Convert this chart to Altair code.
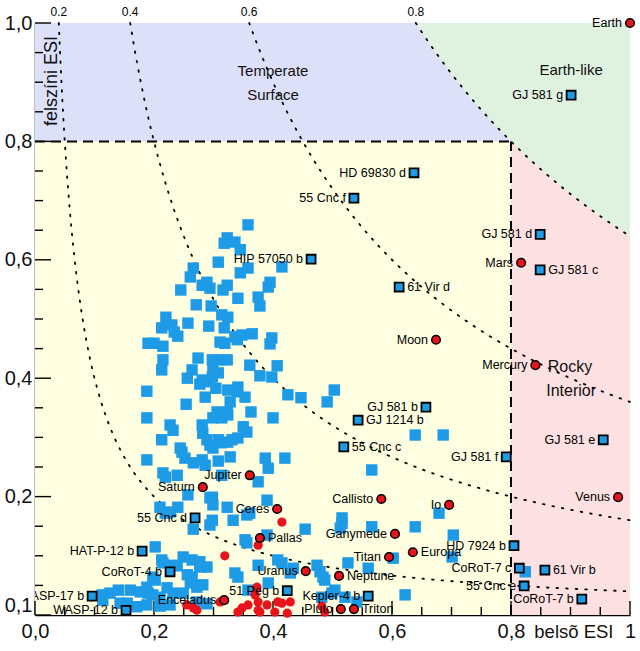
import altair as alt
import numpy as np
import pandas as pd

# ---------------- data (interior ESI, surface ESI) ----------------
unlabeled_exo = [
    (0.358,0.659),(0.323,0.637),(0.336,0.630),(0.318,0.628),(0.345,0.617),(0.308,0.596),(0.266,0.586),
    (0.261,0.571),(0.358,0.586),(0.345,0.578),(0.415,0.588),(0.289,0.562),(0.281,0.557),(0.294,0.552),
    (0.323,0.557),(0.316,0.549),(0.395,0.562),(0.392,0.554),(0.245,0.549),(0.341,0.535),(0.375,0.537),
    (0.378,0.522),(0.271,0.524),(0.296,0.522),(0.314,0.507),(0.324,0.503),(0.220,0.503),(0.213,0.485),
    (0.230,0.490),(0.234,0.478),(0.240,0.471),(0.257,0.493),(0.292,0.488),(0.318,0.485),(0.336,0.470),
    (0.348,0.473),(0.365,0.475),(0.398,0.468),(0.395,0.458),(0.190,0.459),(0.200,0.459),(0.215,0.454),
    (0.311,0.461),(0.319,0.459),(0.340,0.465),(0.215,0.431),(0.274,0.434),(0.298,0.431),(0.311,0.431),
    (0.323,0.431),(0.361,0.422),(0.407,0.421),(0.213,0.414),(0.264,0.414),(0.299,0.414),(0.308,0.409),
    (0.256,0.400),(0.281,0.397),(0.277,0.390),(0.292,0.394),(0.298,0.402),(0.378,0.404),(0.398,0.402),
    (0.304,0.383),(0.188,0.378),(0.324,0.380),(0.340,0.377),(0.341,0.385),(0.286,0.368),(0.353,0.368),
    (0.425,0.372),(0.447,0.367),(0.503,0.380),(0.491,0.360),(0.328,0.360),(0.254,0.356),(0.306,0.343),
    (0.323,0.343),(0.324,0.338),(0.314,0.333),(0.299,0.333),(0.363,0.343),(0.400,0.333),(0.188,0.333),
    (0.281,0.321),(0.282,0.307),(0.289,0.296),(0.294,0.287),(0.227,0.321),(0.232,0.312),(0.213,0.296),
    (0.308,0.296),(0.314,0.291),(0.324,0.292),(0.331,0.296),(0.350,0.318),(0.356,0.309),(0.341,0.299),
    (0.244,0.282),(0.247,0.275),(0.299,0.282),(0.328,0.267),(0.188,0.262),(0.266,0.257),(0.281,0.262),
    (0.286,0.253),(0.308,0.260),(0.252,0.265),(0.387,0.265),(0.420,0.265),(0.392,0.248),(0.215,0.240),
    (0.219,0.233),(0.239,0.236),(0.314,0.236),(0.375,0.225),(0.298,0.199),(0.299,0.186),(0.210,0.182),
    (0.219,0.172),(0.227,0.174),(0.240,0.182),(0.323,0.182),(0.298,0.160),(0.294,0.152),(0.333,0.160),
    (0.266,0.145),(0.390,0.194),(0.361,0.172),(0.454,0.145),(0.390,0.135),(0.353,0.127),(0.356,0.122),
    (0.257,0.203),(0.294,0.198),(0.202,0.115),(0.213,0.093),(0.215,0.088),(0.232,0.084),(0.239,0.083),
    (0.249,0.098),(0.264,0.093),(0.277,0.090),(0.256,0.068),(0.264,0.064),(0.198,0.064),(0.202,0.059),
    (0.126,0.037),(0.140,0.042),(0.160,0.042),(0.177,0.039),(0.188,0.047),(0.190,0.037),(0.198,0.034),
    (0.210,0.030),(0.222,0.046),(0.232,0.037),(0.249,0.037),(0.113,0.034),(0.114,0.025),(0.143,0.020),
    (0.155,0.020),(0.171,0.014),(0.188,0.017),(0.210,0.015),(0.227,0.017),(0.261,0.054),(0.272,0.047),
    (0.282,0.051),(0.272,0.022),(0.289,0.019),(0.516,0.164),(0.516,0.155),(0.513,0.147),(0.566,0.149),
    (0.602,0.096),(0.408,0.093),(0.415,0.088),(0.375,0.084),(0.434,0.079),(0.429,0.071),(0.474,0.084),
    (0.479,0.073),(0.484,0.064),(0.487,0.059),(0.526,0.088),(0.560,0.079),(0.336,0.071),(0.341,0.064),
    (0.622,0.034),(0.504,0.042),(0.499,0.037),(0.482,0.030),(0.521,0.030),(0.639,0.304),(0.686,0.304),
    (0.566,0.245),(0.679,0.172),(0.639,0.149),(0.703,0.135),(0.701,0.098),(0.824,0.073),(0.356,0.169),
    (0.277,0.081),(0.289,0.081),(0.541,0.022),(0.358,0.042),(0.392,0.054),
]

unlabeled_solar = [
    (0.319,0.100),(0.415,0.157),(0.375,0.118),(0.272,0.008),(0.255,0.017),(0.341,0.005),(0.311,0.022),
    (0.373,0.047),(0.375,0.022),(0.375,0.008),(0.390,0.017),(0.415,0.020),(0.429,0.022),(0.424,0.003),
    (0.348,0.012),(0.378,0.005),(0.482,0.015),(0.487,0.005),(0.370,0.034),(0.408,0.022),(0.266,0.012),
    (0.403,0.005),(0.358,0.017),
]

exo_names = ["GJ 581 g", "HD 69830 d", "55 Cnc f", "GJ 581 d", "GJ 581 c", "HIP 57050 b", "61 Vir d",
             "GJ 581 b", "GJ 1214 b", "55 Cnc c", "GJ 581 e", "GJ 581 f", "HD 7924 b", "CoRoT-7 c",
             "61 Vir b", "55 Cnc e", "CoRoT-7 b", "55 Cnc d", "HAT-P-12 b", "CoRoT-4 b", "WASP-17 b",
             "WASP-12 b", "51 Peg b", "Kepler-4 b"]
exo_x = [0.901, 0.637, 0.536, 0.849, 0.849, 0.464, 0.612, 0.657, 0.543, 0.519, 0.955, 0.792, 0.805,
         0.814, 0.857, 0.822, 0.919, 0.269, 0.180, 0.227, 0.096, 0.153, 0.424, 0.560]
exo_y = [0.878, 0.747, 0.704, 0.643, 0.583, 0.601, 0.554, 0.351, 0.329, 0.284, 0.296, 0.267, 0.117,
         0.079, 0.076, 0.049, 0.027, 0.164, 0.108, 0.073, 0.032, 0.008, 0.041, 0.032]
exo_side = ["L", "L", "L", "L", "R", "L", "R", "L", "R", "R", "L", "L", "L", "L", "R", "L", "L", "L",
            "L", "L", "C", "L", "L", "L"]

sol_names = ["Earth", "Mars", "Moon", "Mercury", "Venus", "Callisto", "Io", "Ganymede", "Europa",
             "Titan", "Jupiter", "Saturn", "Ceres", "Pallas", "Uranus", "Neptune", "Enceladus",
             "Pluto", "Triton"]
sol_x = [1.000, 0.817, 0.674, 0.841, 0.980, 0.582, 0.696, 0.605, 0.635, 0.595, 0.361, 0.282, 0.407,
         0.378, 0.455, 0.511, 0.318, 0.514, 0.536]
sol_y = [1.000, 0.595, 0.465, 0.422, 0.199, 0.196, 0.186, 0.137, 0.106, 0.098, 0.236, 0.216, 0.179,
         0.130, 0.074, 0.066, 0.025, 0.010, 0.010]
sol_side = ["L", "L", "L", "L", "L", "L", "L", "L", "R", "L", "L", "L", "L", "R", "L", "R", "L",
            "L", "R"]

iso_levels = [0.2, 0.4, 0.6, 0.8]
iso_labels = ["0.2", "0.4", "0.6", "0.8"]
threshold = 0.8

region_text = ["Temperate", "Surface", "Earth-like", "Rocky", "Interior"]
region_x = [0.400, 0.400, 0.901, 0.899, 0.901]
region_y = [0.919, 0.878, 0.921, 0.419, 0.378]
region_size = [15, 15, 15, 16, 16]

major_ticks = [0.0, 0.2, 0.4, 0.6, 0.8, 1.0]
minor_ticks = [0.05, 0.1, 0.15, 0.25, 0.3, 0.35, 0.45, 0.5, 0.55, 0.65, 0.7, 0.75, 0.85, 0.9, 0.95]

# ---------------- style ----------------
W, H = 595, 592
BLUE = "#1e9be6"
RED = "#e8131b"
FONT = "Liberation Sans"

xs = alt.Scale(domain=[0, 1], nice=False, zero=False)
ys = alt.Scale(domain=[0, 1], nice=False, zero=False)

x_axis = alt.Axis(values=major_ticks, tickSize=0, grid=False, labelFontSize=20, labelPadding=6,
                  labelFlush=False, labelColor="#111111", domainColor="black", domainWidth=1.5,
                  labelExpr="datum.value == 1 ? '1' : replace(format(datum.value, '.1f'), '.', ',')",
                  title="belsõ ESI", titleFontSize=18.5, titleFontWeight="normal", titleX=578, titleY=7,
                  titleAlign="right", titleBaseline="top", titleColor="#111111", titleFont=FONT)
y_axis = alt.Axis(values=major_ticks, tickSize=0, grid=False, labelFontSize=20, labelPadding=3,
                  labelFlush=False, labelColor="#111111", domainColor="black", domainWidth=1.5,
                  labelBaseline={"condition": {"test": "datum.value == 0", "value": "bottom"},
                                 "value": "middle"},
                  labelExpr="datum.value == 0 ? '0,1' : replace(format(datum.value, '.1f'), '.', ',')")


def X(field):
    return alt.X(field, type="quantitative", scale=xs, axis=x_axis)


def Y(field):
    return alt.Y(field, type="quantitative", scale=ys, axis=y_axis, title=None)


# ---------------- tables ----------------
zone_df = pd.DataFrame({"x0": [0.0], "x1": [threshold], "y0": [0.0], "y1": [threshold]})

c2 = threshold ** 2
yy = np.linspace(threshold, 1.0, 120)
blue_df = pd.DataFrame({"y": yy, "x0": 0.0, "x1": c2 / yy})
xg = np.linspace(c2, 1.0, 200)
green_df = pd.DataFrame({"x": xg, "y0": c2 / xg, "y1": 1.0})
xp = np.linspace(threshold, 1.0, 120)
pink_df = pd.DataFrame({"x": xp, "y0": 0.0, "y1": c2 / xp})

curve_rows = []
for lv in iso_levels:
    for xv in np.linspace(lv ** 2, 1.0, 400):
        curve_rows.append({"level": lv, "x": xv, "y": lv ** 2 / xv})
curve_df = pd.DataFrame(curve_rows)

dash_df = pd.DataFrame({"x": [0.0, threshold], "y": [threshold, 0.0],
                        "x2": [threshold, threshold], "y2": [threshold, threshold]})

major_df = pd.DataFrame({"v": major_ticks})
minor_df = pd.DataFrame({"v": minor_ticks})

sq_df = pd.DataFrame(unlabeled_exo, columns=["x", "y"])
rc_df = pd.DataFrame(unlabeled_solar, columns=["x", "y"])
exo_df = pd.DataFrame({"name": exo_names, "x": exo_x, "y": exo_y, "side": exo_side})
sol_df = pd.DataFrame({"name": sol_names, "x": sol_x, "y": sol_y, "side": sol_side})
lab_df = pd.concat([exo_df, sol_df], ignore_index=True)

iso_lab_df = pd.DataFrame({"x": [lv ** 2 for lv in iso_levels], "t": iso_labels})
region_df = pd.DataFrame({"t": region_text, "x": region_x, "y": region_y, "s": region_size})

# ---------------- layers ----------------
yellow = alt.Chart(zone_df).mark_rect(color="#fefee1").encode(x=X("x0"), x2="x1", y=Y("y0"), y2="y1")
blue = alt.Chart(blue_df).mark_area(orient="horizontal", color="#dde0f9", opacity=1).encode(
    y=Y("y"), x=X("x0"), x2="x1")
green = alt.Chart(green_df).mark_area(color="#dff2e0", opacity=1).encode(x=X("x"), y=Y("y0"), y2="y1")
pink = alt.Chart(pink_df).mark_area(color="#fde0e1", opacity=1).encode(x=X("x"), y=Y("y0"), y2="y1")

curves = alt.Chart(curve_df).mark_line(color="black", strokeWidth=1.8, strokeDash=[1.6, 8],
                                       strokeCap="round").encode(
    x=X("x"), y=Y("y"), detail="level:N")

dashes = alt.Chart(dash_df).mark_rule(color="black", strokeWidth=2, strokeDash=[10, 6]).encode(
    x=X("x"), y=Y("y"), x2="x2", y2="y2")

ytick_major = alt.Chart(major_df).mark_rule(color="black", strokeWidth=1.4).encode(
    y=Y("v"), x=alt.value(0), x2=alt.value(16))
ytick_minor = alt.Chart(minor_df).mark_rule(color="black", strokeWidth=1.4).encode(
    y=Y("v"), x=alt.value(0), x2=alt.value(8))
xtick_major = alt.Chart(major_df).mark_rule(color="black", strokeWidth=1.4).encode(
    x=X("v"), y=alt.value(H), y2=alt.value(H - 14))
xtick_minor = alt.Chart(minor_df).mark_rule(color="black", strokeWidth=1.4).encode(
    x=X("v"), y=alt.value(H), y2=alt.value(H - 8))

squares = alt.Chart(sq_df).mark_point(shape="square", filled=True, size=130, color=BLUE,
                                      opacity=1).encode(x=X("x"), y=Y("y"))
reds = alt.Chart(rc_df).mark_circle(size=85, color=RED, opacity=1).encode(x=X("x"), y=Y("y"))

exo_pts = alt.Chart(exo_df).mark_point(shape="square", filled=True, size=80, fill=BLUE, stroke="black",
                                       strokeWidth=1.8, opacity=1).encode(x=X("x"), y=Y("y"))
sol_pts = alt.Chart(sol_df).mark_circle(size=75, fill=RED, stroke="black", strokeWidth=1.5,
                                        opacity=1).encode(x=X("x"), y=Y("y"))

lab_left = alt.Chart(lab_df[lab_df.side == "L"]).mark_text(
    align="right", baseline="middle", dx=-8, fontSize=12.5, font=FONT, color="black").encode(
    x=X("x"), y=Y("y"), text="name:N")
lab_right = alt.Chart(lab_df[lab_df.side == "R"]).mark_text(
    align="left", baseline="middle", dx=8, fontSize=12.5, font=FONT, color="black").encode(
    x=X("x"), y=Y("y"), text="name:N")
lab_clip = alt.Chart(lab_df[lab_df.side == "C"]).mark_text(
    align="right", baseline="middle", dx=-8, fontSize=12.5, font=FONT, color="black", clip=True).encode(
    x=X("x"), y=Y("y"), text="name:N")

iso_text = alt.Chart(iso_lab_df).mark_text(fontSize=12, font=FONT, color="black", baseline="middle").encode(
    x=X("x"), y=alt.value(-11), text="t:N")

region_lab = alt.Chart(region_df).mark_text(font=FONT, color="#111111", baseline="middle").encode(
    x=X("x"), y=Y("y"), text="t:N", size=alt.Size("s:Q", scale=None, legend=None))

ytitle = alt.Chart(pd.DataFrame({"t": ["felszíni ESI"]})).mark_text(
    angle=270, fontSize=18, font=FONT, color="#111111", align="center", baseline="middle").encode(
    x=alt.value(17), y=alt.value(58), text="t:N")

chart = alt.layer(
    yellow, blue, green, pink, curves, dashes,
    ytick_major, ytick_minor, xtick_major, xtick_minor,
    squares, reds, exo_pts, sol_pts,
    lab_left, lab_right, lab_clip, iso_text, region_lab, ytitle,
).properties(
    width=W, height=H,
    autosize=alt.AutoSizeParams(type="none"),
    padding={"left": 35, "top": 23, "right": 10, "bottom": 36},
).configure(font=FONT).configure_view(stroke=None)

chart.save("out.html", embed_options={"renderer": "svg", "actions": False})
